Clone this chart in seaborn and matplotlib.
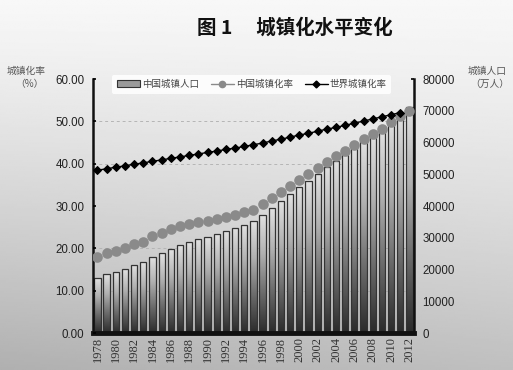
import numpy as np
import pandas as pd
import matplotlib
matplotlib.use("Agg")
import matplotlib.pyplot as plt
from matplotlib.ticker import FixedLocator, FormatStrFormatter
from matplotlib.patches import Rectangle
from matplotlib.lines import Line2D
from matplotlib.colors import LinearSegmentedColormap
import seaborn as sns

years = [str(y) for y in range(1978, 2013)]
urban_pop = [17245, 18495, 19140, 20171, 21480, 22274, 24017, 25094, 26366, 27674,
             28661, 29540, 30195, 31203, 32175, 33173, 34169, 35174, 37304, 39449,
             41608, 43748, 45906, 48064, 50212, 52376, 54283, 56212, 58288, 60633,
             62403, 64512, 66978, 69079, 71182]
china_rate = [17.92, 18.96, 19.39, 20.16, 21.13, 21.62, 23.01, 23.71, 24.52, 25.32,
              25.81, 26.21, 26.41, 26.94, 27.46, 27.99, 28.51, 29.04, 30.48, 31.91,
              33.35, 34.78, 36.22, 37.66, 39.09, 40.53, 41.76, 42.99, 44.34, 45.89,
              46.99, 48.34, 49.95, 51.27, 52.57]
world_years = years[:-1]
world_rate = [38.5, 38.8, 39.2, 39.5, 39.9, 40.2, 40.6, 40.9, 41.3, 41.6,
              42.0, 42.3, 42.7, 43.0, 43.4, 43.7, 44.1, 44.5, 44.9, 45.4,
              45.8, 46.3, 46.8, 47.2, 47.7, 48.2, 48.6, 49.1, 49.6, 50.1,
              50.6, 51.1, 51.6, 52.1]
left_ticks = [0, 10, 20, 30, 40, 50, 60]
right_ticks = [0, 10000, 20000, 30000, 40000, 50000, 60000, 70000, 80000]

sns.set_style("white")
plt.rcParams['font.family'] = ['Noto Sans CJK SC', 'DejaVu Sans']

fig = plt.figure(figsize=(5.13, 3.70), dpi=100)

# background gradient
bg = fig.add_axes([0, 0, 1, 1], zorder=-10)
yy = np.linspace(0, 1, 200)[:, None]
xx = np.linspace(0, 1, 200)[None, :]
grad = 0.97 - 0.28 * yy ** 1.2 + 0.06 * xx * yy
bg.imshow(grad, cmap='gray', vmin=0, vmax=1, aspect='auto', extent=[0, 1, 0, 1], origin='upper')
bg.axis('off')

ax = fig.add_axes([0.181, 0.100, 0.626, 0.686])
ax.patch.set_alpha(0)
ax2 = ax.twinx()
ax2.patch.set_visible(False)

df_bar = pd.DataFrame({'year': years, 'pop': urban_pop})
sns.barplot(data=df_bar, x='year', y='pop', ax=ax, order=years, color='#999999',
            width=0.68, edgecolor='#333333', linewidth=0.9)
ax.set_ylim(0, 80000)
ax.set_xlim(-0.5, len(years) - 0.5)

# gradient fill for bars
bgrad = np.linspace(0, 1, 256)[:, None]
bcmap = LinearSegmentedColormap.from_list('b', ['#e2e2e2', '#b0b0b0', '#6a6a6a', '#2a2a2a'])
for p in list(ax.patches):
    x0, y0 = p.get_x(), p.get_y()
    w, h = p.get_width(), p.get_height()
    im = ax.imshow(bgrad, cmap=bcmap, aspect='auto', extent=[x0, x0 + w, y0, y0 + h],
                   origin='upper', zorder=0.9)
    im.set_clip_path(p)
    p.set_facecolor('none')
    p.set_zorder(1.0)
ax.set_aspect('auto')
ax.set_ylim(0, 80000)
ax.set_xlim(-0.5, len(years) - 0.5)

df_c = pd.DataFrame({'year': years, 'rate': china_rate})
df_w = pd.DataFrame({'year': world_years, 'rate': world_rate})
sns.pointplot(data=df_c, x='year', y='rate', ax=ax2, order=years, color='#8a8a8a',
              markers='o', linestyles='none', markersize=5.6, errorbar=None)
sns.pointplot(data=df_w, x='year', y='rate', ax=ax2, order=years, color='black',
              markers='D', markersize=3.8, linewidth=1.0, errorbar=None)
ax2.set_ylim(0, 60)
ax2.set_xlim(-0.5, len(years) - 0.5)

# axes placement
ax.yaxis.tick_right()
ax2.yaxis.tick_left()
ax.set_yticks(right_ticks)
ax2.set_yticks(left_ticks)
ax2.yaxis.set_major_formatter(FormatStrFormatter('%.2f'))
ax.set_xticks(range(0, len(years), 2))
ax.set_xticklabels(years[::2], rotation=90, fontfamily='Liberation Serif', fontsize=9, color='#333333')
ax.set_xlabel('')
ax.set_ylabel('')
ax2.set_xlabel('')
ax2.set_ylabel('')
for lab in ax.get_yticklabels():
    lab.set_fontfamily('Liberation Sans'); lab.set_fontsize(8.3); lab.set_color('#222222')
for lab in ax2.get_yticklabels():
    lab.set_fontfamily('Liberation Sans'); lab.set_fontsize(8.3); lab.set_color('#222222')
ax.tick_params(axis='x', length=0, pad=3)
ax.tick_params(axis='y', direction='in', length=2.5, width=1.2, pad=6, color='black')
ax2.tick_params(axis='y', direction='in', length=2.5, width=1.2, pad=6, color='black')

# grid
ax.yaxis.set_minor_locator(FixedLocator([v / 60 * 80000 for v in left_ticks[1:]]))
ax.tick_params(which='minor', length=0)
ax.grid(which='minor', axis='y', linestyle=(0, (3, 3)), color='#b5b5b5', linewidth=0.7)
ax.grid(which='major', visible=False)
ax.set_axisbelow(True)

ax.spines['top'].set_visible(False)
for s in ax2.spines.values():
    s.set_visible(False)
ax.spines['left'].set_linewidth(1.8)
ax.spines['right'].set_linewidth(1.8)
ax.spines['bottom'].set_linewidth(3.5)
for s in ['left', 'right', 'bottom']:
    ax.spines[s].set_color('#111111')

# legend
handles = [Rectangle((0, 0), 1, 1, facecolor='#9a9a9a', edgecolor='#333333', linewidth=0.8),
           Line2D([], [], color='#8a8a8a', marker='o', markersize=4.5, linewidth=1.0),
           Line2D([], [], color='black', marker='D', markersize=3.5, linewidth=1.0)]
labels = ['中国城镇人口', '中国城镇化率', '世界城镇化率']
leg = ax2.legend(handles, labels, loc='upper center', bbox_to_anchor=(0.495, 1.035), ncol=3,
                 fontsize=6.8, frameon=True, facecolor='white', edgecolor='none', framealpha=0.85,
                 handlelength=2.4, handletextpad=0.2, columnspacing=1.3, borderpad=0.5)
for t in leg.get_texts():
    t.set_color('#444444')
leg.set_zorder(10)

# titles and axis labels
fig.text(0.575, 0.925, '图 1　 城镇化水平变化', ha='center', va='center', fontsize=14,
         fontweight='bold', color='#111111')
fig.text(0.05, 0.808, '城镇化率', ha='center', va='center', fontsize=7, color='#555555')
fig.text(0.058, 0.773, '（%）', ha='center', va='center', fontsize=7, color='#555555')
fig.text(0.95, 0.808, '城镇人口', ha='center', va='center', fontsize=7, color='#555555')
fig.text(0.955, 0.773, '（万人）', ha='center', va='center', fontsize=7, color='#555555')

fig.savefig('out.png', dpi=100)
